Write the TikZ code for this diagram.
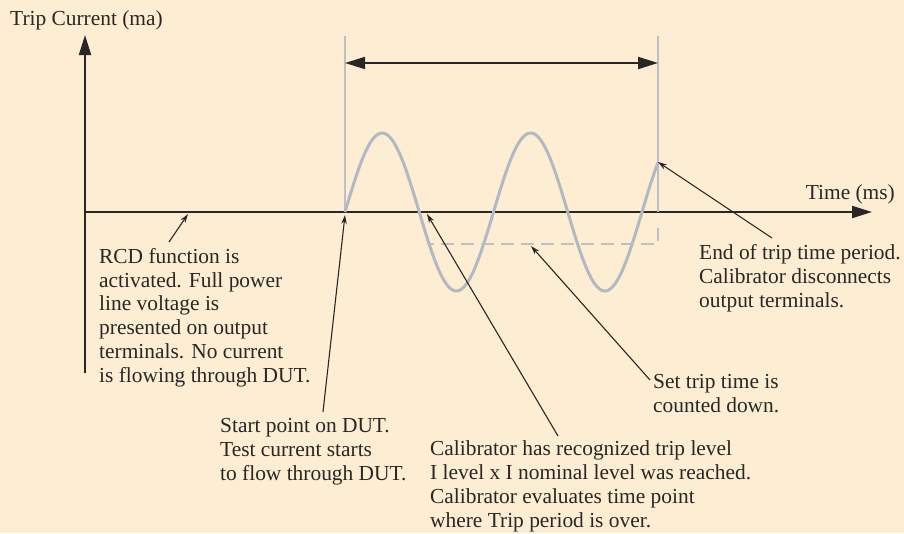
\documentclass[tikz,border=0pt]{standalone}
\usepackage{fontspec}
\setmainfont{Liberation Serif}
\usetikzlibrary{arrows.meta}
\definecolor{bgcol}{RGB}{253,238,211}
\definecolor{ink}{RGB}{40,38,38}
\definecolor{wavecol}{RGB}{178,184,196}
\definecolor{markcol}{RGB}{190,192,198}

\begin{document}
\begin{tikzpicture}[x=1pt,y=-1pt,
  axis/.style={ink,line width=2pt,-{Triangle[length=20pt,width=12pt]}},
  callout/.style={ink,line width=1.1pt,-{Stealth[length=9pt,width=5.5pt]}},
  txt/.style={anchor=base west,inner sep=0pt,align=left,text=ink},
  font=\fontsize{21.4}{23.7}\selectfont]
  % hintergrund
  \fill[bgcol] (0,0) rectangle (904,533);
  \useasboundingbox (0,0) rectangle (904,533);
  % osy
  \coordinate (o) at (85,212); \coordinate (ytop) at (85,35);
  \coordinate (ybot) at (85,373); \coordinate (xend) at (872,212);
  \draw[axis] (ybot)--(ytop);
  \draw[axis] (o)--(xend);
  \node[txt] (ylab) at (10,25) {Trip Current (ma)};
  \node[txt,anchor=base east] (xlab) at (895,199) {Time (ms)};
  % hranice doby vypnuti
  \foreach \n/\x in {t0/345,t1/658} {
    \coordinate (\n top) at (\x,36); \coordinate (\n) at (\x,212);
    \draw[markcol,line width=1.8pt] (\n top)--(\n);}
  \draw[ink,line width=2pt,{Triangle[length=20pt,width=12pt]}-{Triangle[length=20pt,width=12pt]}]
    (345,63) coordinate (pl)--(658,63) coordinate (pr);
  % sinus
  \draw[wavecol,line width=3pt] plot[domain=0:313,samples=160] ({345+\x},{212-79*sin((\x/148.5)*360)});
  \coordinate (wend) at (658,162);
  % nastaveny cas
  \coordinate (d0) at (658,228); \coordinate (d1) at (658,244); \coordinate (d2) at (430,244);
  \draw[markcol,line width=1.8pt,dash pattern=on 13pt off 7pt] (d0)--(d1)--(d2);
  % popisky (base = posledni radek)
  \node[txt] (rcd) at (99,382) {RCD function is\\activated. Full power\\line voltage is\\presented on output\\terminals. No current\\is flowing through DUT.};
  \node[txt] (start) at (220,480) {Start point on DUT.\\Test current starts\\to flow through DUT.};
  \node[txt] (recog) at (430,527) {Calibrator has recognized trip level\\I level x I nominal level was reached.\\Calibrator evaluates time point\\where Trip period is over.};
  \node[txt] (count) at (653,412) {Set trip time is\\counted down.};
  \node[txt] (endp) at (699,307) {End of trip time period.\\Calibrator disconnects\\output terminals.};
  % sipky
  \coordinate (a1) at (169,242); \coordinate (b1) at (188,214);
  \coordinate (a2) at (323,412); \coordinate (b2) at (345,215);
  \coordinate (a3) at (558,436); \coordinate (b3) at (427,214);
  \coordinate (a4) at (650,380); \coordinate (b4) at (531,246);
  \coordinate (a5) at (772,238);
  \draw[callout] (a1)--(b1);
  \draw[callout] (a2)--(b2);
  \draw[callout] (a3)--(b3);
  \draw[callout] (a4)--(b4);
  \draw[callout] (a5)--(wend);
\end{tikzpicture}
\end{document}
